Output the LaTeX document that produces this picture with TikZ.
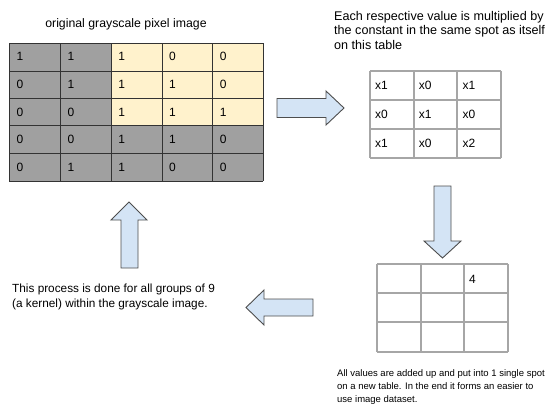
\documentclass[tikz,border=0pt]{standalone}
\usepackage{fontspec}
\setmainfont{Liberation Sans}
\definecolor{cellgray}{HTML}{A0A0A0}
\definecolor{cellyellow}{HTML}{FFF2CC}
\definecolor{gridline}{HTML}{333333}
\definecolor{tableline}{HTML}{A6A6A6}
\definecolor{arrowfill}{HTML}{D4E4F5}
\definecolor{arrowline}{HTML}{4D4D4D}
\begin{document}
\begin{tikzpicture}[x=1pt,y=-1pt,
  celltext/.style={anchor=west,inner sep=0pt,font=\fontsize{12}{14}\selectfont},
  caption/.style={inner sep=0pt,align=left},
  blockarrow/.style={fill=arrowfill,draw=arrowline,line width=0.9pt,line join=miter},
  gridlines/.style={draw=gridline,line width=0.9pt},
  tablelines/.style={draw=tableline,line width=1.4pt}]
\useasboundingbox (0,0) rectangle (548,405);

% ---- original grayscale pixel image ----
\node[inner sep=0pt,font=\fontsize{12.3}{14}\selectfont] (title) at (126,24) {original grayscale pixel image};
\fill[cellgray] (9,43) rectangle (263,181);
\fill[cellyellow] (111,43) rectangle (263,125);
\foreach \x in {9,60,111,162,212,263} \draw[gridlines] (\x,43) -- (\x,181);
\foreach \y in {43,71,98,125,153,181} \draw[gridlines] (9,\y) -- (263,\y);
\foreach \row [count=\r] in {{1,1,1,0,0},{0,1,1,1,0},{0,0,1,1,1},{0,0,1,1,0},{0,1,1,0,0}} {
  \foreach \v [count=\c] in \row {
    \node[celltext] (g-\r-\c) at ({9+50.8*(\c-1)+7.5},{43+27.6*(\r-1)+13.8}) {\v};
  }
}

% ---- kernel table ----
% (base anchor of a multi-line node sits on its last line)
\node[caption,anchor=base west,font=\fontsize{12.6}{14.5}\selectfont] (kcap) at (334,49)
  {Each respective value is multiplied by\\the constant in the same spot as itself\\on this table};
\foreach \x in {370,414,457,501} \draw[tablelines] (\x,71) -- (\x,158);
\foreach \y in {71,100,129,158} \draw[tablelines] (370,\y) -- (501,\y);
\foreach \row [count=\r] in {{x1,x0,x1},{x0,x1,x0},{x1,x0,x2}} {
  \foreach \v [count=\c] in \row {
    \node[celltext] (k-\r-\c) at ({370+43.7*(\c-1)+5},{71+29*(\r-1)+14.5}) {\v};
  }
}

% ---- result table ----
\foreach \x in {377,421,464,508} \draw[tablelines] (\x,264) -- (\x,352);
\foreach \y in {264,293,322,352} \draw[tablelines] (377,\y) -- (508,\y);
\node[celltext] (r-1-3) at (469,279) {4};
\node[caption,anchor=base west,font=\fontsize{9.5}{13}\selectfont] (rcap) at (337,402.5)
  {All values are added up and put into 1 single spot\\on a new table. In the end it forms an easier to\\use image dataset.};

% ---- loop-back caption ----
\node[caption,anchor=base west,font=\fontsize{11.8}{15}\selectfont] (lcap) at (12,307)
  {This process is done for all groups of 9\\(a kernel) within the grayscale image.};

% ---- block arrows ----
% right
\draw[blockarrow] (277,98.5) -- (326,98.5) -- (326,91) -- (344,108) -- (326,125) -- (326,117.5) -- (277,117.5) -- cycle;
% down
\draw[blockarrow] (434,186) -- (451,186) -- (451,241) -- (461,241) -- (442.5,258) -- (424,241) -- (434,241) -- cycle;
% left
\draw[blockarrow] (313,299) -- (264,299) -- (264,290) -- (246,307.5) -- (264,325) -- (264,316) -- (313,316) -- cycle;
% up
\draw[blockarrow] (121,268) -- (121,220) -- (111,220) -- (129,202) -- (147,220) -- (138,220) -- (138,268) -- cycle;
\end{tikzpicture}
\end{document}
